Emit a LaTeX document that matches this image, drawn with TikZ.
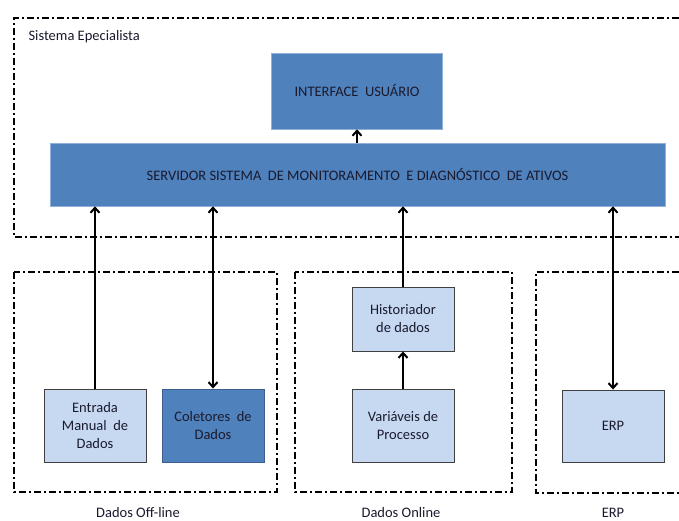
\documentclass[tikz,border=0pt]{standalone}
\usepackage{fontspec}
\setmainfont{Carlito}
\usetikzlibrary{arrows.meta}
\definecolor{darkblue}{HTML}{4F81BD}
\definecolor{lightblue}{HTML}{C6D9F1}
\definecolor{darkedge}{HTML}{3A5F8C}
\definecolor{lightedge}{HTML}{404040}
\definecolor{topedge}{HTML}{8EB0DA}
\definecolor{inktext}{HTML}{1A1A2E}
\begin{document}
\begin{tikzpicture}[x=1pt,y=1pt]

\tikzset{frame/.style={line width=2pt,dash pattern=on 7pt off 3pt on 2pt off 3pt}}
\tikzset{topbox/.style={fill=darkblue,draw=topedge,line width=0.6pt,inner sep=0pt,text=inktext,
  font=\fontsize{14.5}{17}\selectfont}}
\tikzset{databox/.style={fill=lightblue,draw=lightedge,line width=0.9pt,inner sep=0pt,align=center,
  text=inktext,minimum width=102pt,font=\fontsize{14.5}{18}\selectfont}}
\tikzset{flow/.style={line width=2pt,>={Straight Barb[length=5pt,width=9pt]}}}
\tikzset{caption/.style={text=inktext,font=\fontsize{14.5}{17}\selectfont}}

\useasboundingbox (0,0) rectangle (679,521);

\draw[frame] (679,503) -- (14,503) -- (14,284) -- (679,284);
\draw[frame] (14,249) rectangle (277,29);
\draw[frame] (295,249) rectangle (512,29);
\draw[frame] (679,249) -- (536,249) -- (536,28) -- (679,28);

\node[caption,anchor=west] (sistema) at (25,484) {Sistema Epecialista};

\node[topbox,minimum width=171pt,minimum height=76pt] (interface) at (357,430) {INTERFACE \ USUÁRIO};
\node[topbox,minimum width=615pt,minimum height=63pt] (servidor) at (357.5,346.5)
  {SERVIDOR SISTEMA \ DE MONITORAMENTO \ E DIAGNÓSTICO \ DE ATIVOS};

\node[databox,minimum height=73pt] (entrada) at (95,95.5) {Entrada\\Manual \ de\\Dados};
\node[databox,minimum height=73pt,fill=darkblue,draw=darkedge] (coletores) at (213,95.5) {Coletores \ de\\Dados};
\node[databox,minimum height=64pt] (historiador) at (403,202) {Historiador\\de dados};
\node[databox,minimum height=73pt] (variaveis) at (403,95.5) {Variáveis de\\Processo};
\node[databox,minimum height=72pt] (erp) at (613,95) {ERP};

\node[caption] (offline) at (138,8) {Dados Off-line};
\node[caption] (online) at (401,8) {Dados Online};
\node[caption] (erpcap) at (613,8) {ERP};

\draw[flow,->] (servidor.north -| interface.south) -- (interface.south);
\draw[flow,->] (entrada.north) -- (entrada.north |- servidor.south);
\draw[flow,<->] (coletores.north) -- (coletores.north |- servidor.south);
\draw[flow,->] (historiador.north) -- (historiador.north |- servidor.south);
\draw[flow,->] (variaveis.north) -- (historiador.south);
\draw[flow,<->] (erp.north) -- (erp.north |- servidor.south);

\end{tikzpicture}
\end{document}
